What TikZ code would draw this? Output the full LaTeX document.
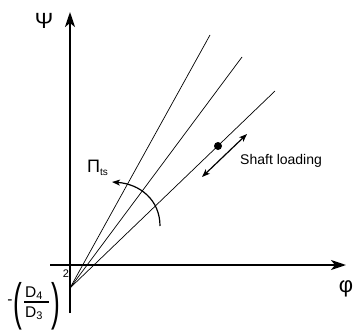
\documentclass[tikz,border=0pt]{standalone}
\usepackage{graphicx}
\usepackage{fontspec}
\setmainfont{Liberation Sans}
\usetikzlibrary{arrows.meta}

\tikzset{
  axis/.style={line width=2.2pt, -{Stealth[length=15pt,width=10pt,inset=4pt]}},
  ray/.style={line width=0.7pt},
  twoway/.style={line width=1.2pt, {Stealth[length=8pt,width=6pt,inset=2pt]}-{Stealth[length=8pt,width=6pt,inset=2pt]}},
  turn/.style={line width=1.2pt, -{Stealth[length=8pt,width=6pt,inset=2pt]}},
  opdot/.style={circle, fill=black, inner sep=0pt, minimum size=8pt},
  lbl/.style={inner sep=0pt, font=\fontsize{14}{16}\selectfont},
  axlbl/.style={inner sep=0pt, font=\fontsize{22}{24}\selectfont},
  frac/.style={inner sep=0pt, font=\fontsize{15.5}{18}\selectfont}
}

\begin{document}
\begin{tikzpicture}[x=1pt,y=-1pt]
  \useasboundingbox (0,0) rectangle (355,329);

  % axes
  \coordinate (ybot) at (70,313);
  \coordinate (ytop) at (70,12);
  \coordinate (xleft) at (50,265);
  \coordinate (xright) at (346,265);
  \draw[axis] (ybot) -- (ytop);
  \draw[axis] (xleft) -- (xright);
  \node[axlbl] (psi) at (44,21) {Ψ};
  \node[axlbl] (phi) at (346,289) {φ};

  % speed lines
  \coordinate (O) at (70,288);
  \coordinate (r1) at (210,35);
  \coordinate (r2) at (242,57);
  \coordinate (r3) at (275,91);
  \foreach \r in {r1,r2,r3} \draw[ray] (O) -- (\r);

  % intercept -(D4/D3)^2
  \node[frac, anchor=base west] (d4) at (25,297) {D\raisebox{-2.5pt}{\fontsize{11}{12}\selectfont 4}};
  \node[frac, anchor=base west] (d3) at (25,317) {D\raisebox{-2.5pt}{\fontsize{11}{12}\selectfont 3}};
  \coordinate (barl) at (24,302);
  \coordinate (barr) at (49,302);
  \draw[line width=1.3pt] (barl) -- (barr);
  \node[frac] (lpar) at (18,306) {\scalebox{1.7}[3.3]{(}};
  \node[frac] (rpar) at (56,306) {\scalebox{1.7}[3.3]{)}};
  \node[frac] (minus) at (10,302) {-};
  \node[inner sep=0pt, font=\fontsize{11}{12}\selectfont] (sq) at (66,274) {2};

  % operating point and shaft loading
  \node[opdot] (op) at (218,146) {};
  \coordinate (sl1) at (202,177);
  \coordinate (sl2) at (247,134);
  \draw[twoway] (sl1) -- (sl2);
  \node[lbl, anchor=west] (shaft) at (240,161) {Shaft loading};

  % total-to-static pressure ratio
  \coordinate (a1) at (160,226);
  \coordinate (a2) at (112,182);
  \draw[turn] (a1) .. controls (160,200) and (140,184) .. (a2);
  \node[inner sep=0pt, anchor=base west, font=\fontsize{18}{20}\selectfont] (pits) at (87,172)
    {Π\raisebox{-3pt}{\fontsize{10}{12}\selectfont ts}};

\end{tikzpicture}
\end{document}
